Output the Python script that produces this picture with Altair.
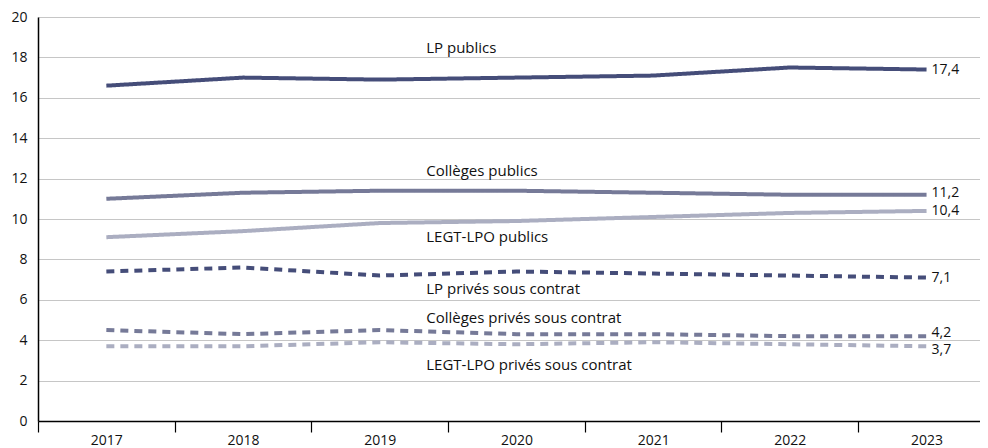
import altair as alt
import pandas as pd

years = [2017, 2018, 2019, 2020, 2021, 2022, 2023]

series_names = [
    "LP publics",
    "Collèges publics",
    "LEGT-LPO publics",
    "LP privés sous contrat",
    "Collèges privés sous contrat",
    "LEGT-LPO privés sous contrat",
]

lp_publics = [16.6, 17.0, 16.9, 17.0, 17.1, 17.5, 17.4]
colleges_publics = [11.0, 11.3, 11.4, 11.4, 11.3, 11.2, 11.2]
legt_publics = [9.1, 9.4, 9.8, 9.9, 10.1, 10.3, 10.4]
lp_prives = [7.4, 7.6, 7.2, 7.4, 7.3, 7.2, 7.1]
colleges_prives = [4.5, 4.3, 4.5, 4.3, 4.3, 4.2, 4.2]
legt_prives = [3.7, 3.7, 3.9, 3.8, 3.9, 3.8, 3.7]

all_values = [lp_publics, colleges_publics, legt_publics, lp_prives, colleges_prives, legt_prives]

colors = ["#454d79", "#767a98", "#abaec1", "#454d79", "#767a98", "#abaec1"]
dashes = [[1, 0], [1, 0], [1, 0], [8, 6], [8, 6], [8, 6]]

# series name label anchors (year, value)
label_x = [2019.34] * 6
label_y = [18.47, 12.38, 9.11, 6.53, 5.10, 2.77]
end_dy = [0, -2, 0, 0, -3, 4]

rows = []
for name, vals in zip(series_names, all_values):
    for y, v in zip(years, vals):
        rows.append({"serie": name, "annee": y, "valeur": v})
df = pd.DataFrame(rows)

lab_df = pd.DataFrame({"serie": series_names, "x": label_x, "y": label_y})

FONT = "Open Sans"
x_dom = [2016.5, 2016.5 + 942 / 136.7]

x_scale = alt.Scale(domain=x_dom, nice=False, zero=False)
y_scale = alt.Scale(domain=[0, 20], nice=False)

lines = alt.Chart(df).mark_line(strokeWidth=4, strokeCap="butt").encode(
    x=alt.X("annee:Q", scale=x_scale, title=None,
            axis=alt.Axis(values=years, format="d", grid=False, tickOffset=-68.35,
                          labelOffset=68.35,
                          tickSize=11, tickColor="#000", tickWidth=1.2,
                          domainColor="#000", domainWidth=1.5,
                          labelFontSize=14, labelColor="#111", labelPadding=1,
                          labelFont=FONT)),
    y=alt.Y("valeur:Q", scale=y_scale, title=None,
            axis=alt.Axis(values=list(range(0, 21, 2)), grid=True, gridColor="#c6c6c6",
                          gridWidth=1.2, ticks=False, domainColor="#000", domainWidth=1.5,
                          labelFontSize=14, labelColor="#111", labelPadding=11,
                          labelFont=FONT)),
    color=alt.Color("serie:N", scale=alt.Scale(domain=series_names, range=colors), legend=None),
    strokeDash=alt.StrokeDash("serie:N", scale=alt.Scale(domain=series_names, range=dashes), legend=None),
    detail="serie:N",
)

end_layers = []
last = df[df["annee"] == 2023].copy()
last["txt"] = last["valeur"].map(lambda v: f"{v:.1f}".replace(".", ","))
for name, dy in zip(series_names, end_dy):
    sub = last[last["serie"] == name]
    end_layers.append(
        alt.Chart(sub).mark_text(align="left", baseline="middle", dx=5, dy=dy,
                                 fontSize=14, font=FONT, color="#111").encode(
            x=alt.X("annee:Q", scale=x_scale),
            y=alt.Y("valeur:Q", scale=y_scale),
            text="txt:N",
        )
    )

names = alt.Chart(lab_df).mark_text(align="left", baseline="middle", fontSize=15,
                                    font=FONT, color="#111").encode(
    x=alt.X("x:Q", scale=x_scale),
    y=alt.Y("y:Q", scale=y_scale),
    text="serie:N",
)

chart = alt.layer(lines, names, *end_layers).properties(
    width=942, height=404,
    autosize=alt.AutoSizeParams(type="none"),
    padding={"left": 30, "top": 9, "right": 0, "bottom": 27},
).configure_view(stroke=None, clip=False)

chart.save("out.html", embed_options={"renderer": "svg", "actions": False})
